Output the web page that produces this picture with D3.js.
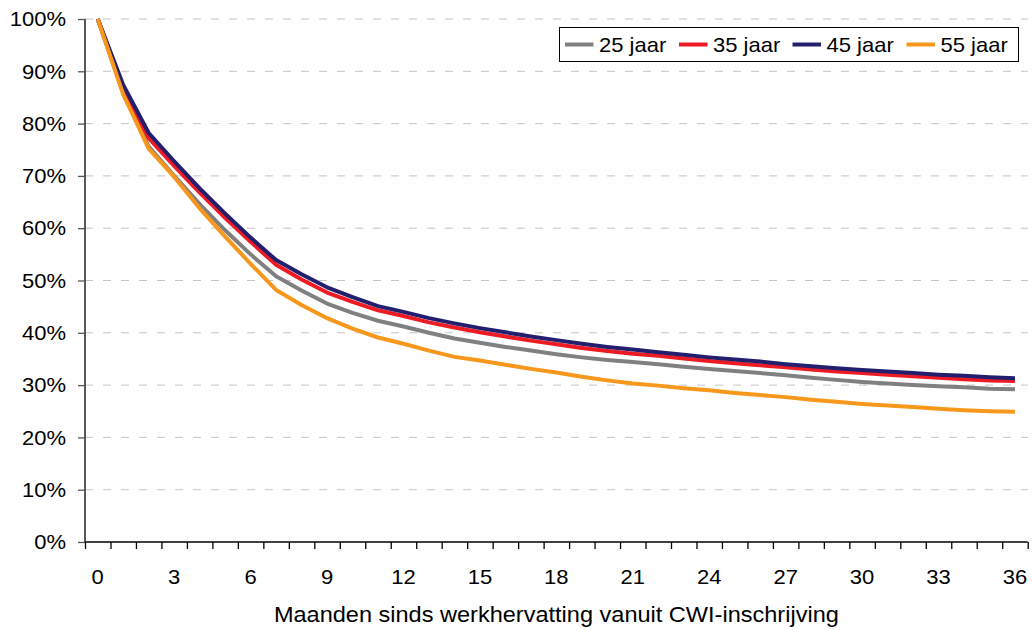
<!DOCTYPE html>
<html>
<head>
<meta charset="utf-8">
<script src="https://cdn.jsdelivr.net/npm/d3@7"></script>
<style>
  html, body { margin: 0; padding: 0; background: #fff; }
  svg { display: block; font-family: "Liberation Sans", Arial, sans-serif; }
</style>
</head>
<body>
<svg id="chart" width="1033" height="630"></svg>
<script>
// Months since resuming work (category axis)
const months = [0,1,2,3,4,5,6,7,8,9,10,11,12,13,14,15,16,17,18,19,20,21,22,23,24,25,26,27,28,29,30,31,32,33,34,35,36];
const monthLabels = [0,3,6,9,12,15,18,21,24,27,30,33,36];
const yTicks = [0,10,20,30,40,50,60,70,80,90,100];

// Share still in work (%) per age group
const age25 = [100,85.8,75.6,70.0,64.6,59.6,55.0,50.8,48.1,45.6,43.8,42.3,41.2,40.0,38.9,38.1,37.3,36.6,35.9,35.3,34.8,34.4,34.0,33.5,33.1,32.7,32.3,31.9,31.4,31.0,30.6,30.3,30.0,29.8,29.6,29.3,29.2];
const age35 = [100,86.8,77.2,71.9,66.8,62.0,57.4,53.0,50.2,47.7,45.9,44.3,43.2,42.0,41.0,40.1,39.3,38.5,37.8,37.1,36.5,36.0,35.6,35.1,34.6,34.2,33.8,33.4,33.0,32.6,32.3,32.0,31.7,31.4,31.1,30.9,30.8];
const age45 = [100,87.4,78.2,72.8,67.6,62.8,58.2,53.9,51.2,48.7,46.8,45.1,44.0,42.8,41.8,40.9,40.1,39.3,38.6,37.9,37.3,36.8,36.3,35.8,35.3,34.9,34.5,34.0,33.6,33.2,32.9,32.6,32.3,32.0,31.8,31.5,31.3];
const age55 = [100,85.6,75.2,69.8,63.8,58.4,53.2,48.2,45.3,42.8,40.8,39.1,37.9,36.6,35.4,34.7,33.9,33.1,32.4,31.6,30.9,30.3,29.9,29.4,29.0,28.5,28.1,27.7,27.2,26.8,26.4,26.1,25.8,25.5,25.2,25.0,24.9];

const seriesNames = ["25 jaar","35 jaar","45 jaar","55 jaar"];
const seriesValues = [age25, age35, age45, age55];
const seriesColors = ["#808080","#ed1c24","#231f6e","#f7981d"];

const xTitle = "Maanden sinds werkhervatting vanuit CWI-inschrijving";

const svg = d3.select("#chart");
const plot = { left: 85, right: 1027.7, top: 19, bottom: 542 };
const fontSize = 20;
const stretch = 1.1; // horizontal text stretch

const x = d3.scaleBand().domain(months).range([plot.left, plot.right]).padding(0);
const cx = m => x(m) + x.bandwidth() / 2;
const y = d3.scaleLinear().domain([0, 100]).range([plot.bottom, plot.top]);

function stretchedText(sel, size = fontSize) {
  return sel.attr("transform", d => `translate(${d.tx},${d.ty}) scale(${stretch},1)`)
    .attr("font-size", size)
    .attr("fill", "#000");
}

// Horizontal dashed gridlines
svg.append("g").selectAll("line")
  .data(yTicks.filter(t => t > 0))
  .join("line")
  .attr("x1", plot.left).attr("x2", plot.right)
  .attr("y1", d => y(d)).attr("y2", d => y(d))
  .attr("stroke", "#c4c4c4").attr("stroke-width", 1)
  .attr("stroke-dasharray", "8,10");

// Y axis
const yAxis = svg.append("g")
  .attr("transform", `translate(${plot.left},0)`)
  .call(d3.axisLeft(y).tickValues(yTicks).tickSize(7).tickFormat(""));
yAxis.select(".domain").attr("stroke", "#000").attr("stroke-width", 1.3)
  .attr("d", `M0,${plot.top}V${plot.bottom}`);
yAxis.selectAll(".tick line").attr("stroke", "#555").attr("stroke-width", 1.3);

svg.append("g").selectAll("text")
  .data(yTicks.map(t => ({ t, tx: 66, ty: y(t) })))
  .join("text")
  .call(stretchedText)
  .attr("text-anchor", "end")
  .attr("dy", "0.36em")
  .text(d => d.t + "%");

// X axis: ticks on the category boundaries
const edges = months.map(m => x(m)).concat([plot.right]);
const xAxisScale = d3.scaleIdentity().domain([plot.left, plot.right]);
const xAxis = svg.append("g")
  .attr("transform", `translate(0,${plot.bottom})`)
  .call(d3.axisBottom(xAxisScale).tickValues(edges).tickSize(7).tickFormat(""));
xAxis.select(".domain").attr("stroke", "#000").attr("stroke-width", 1.3)
  .attr("d", `M${plot.left},0H${plot.right}`);
xAxis.selectAll(".tick line").attr("stroke", "#000").attr("stroke-width", 1.3);

svg.append("g").selectAll("text")
  .data(monthLabels.map(m => ({ m, tx: cx(m), ty: 584 })))
  .join("text")
  .call(stretchedText)
  .attr("text-anchor", "middle")
  .text(d => d.m);

// Axis title
svg.append("text")
  .datum({ tx: (plot.left + plot.right) / 2, ty: 621.5 })
  .call(stretchedText, 21.4)
  .attr("text-anchor", "middle")
  .text(xTitle);

// Series lines
const line = d3.line()
  .x((d, i) => cx(months[i]))
  .y(d => y(d));

svg.append("g").selectAll("path")
  .data(seriesValues)
  .join("path")
  .attr("d", line)
  .attr("fill", "none")
  .attr("stroke", (d, i) => seriesColors[i])
  .attr("stroke-width", 4)
  .attr("stroke-linejoin", "round");

// Legend
const legend = svg.append("g");
legend.append("rect")
  .attr("x", 559.5).attr("y", 27.5).attr("width", 459).attr("height", 34)
  .attr("fill", "#fff").attr("stroke", "#000").attr("stroke-width", 1);

const legendX = [565, 679, 792.5, 906.5];
const items = legend.selectAll("g.item")
  .data(seriesNames.map((n, i) => ({ n, i, lx: legendX[i] })))
  .join("g").attr("class", "item");
items.append("line")
  .attr("x1", d => d.lx).attr("x2", d => d.lx + 28.5)
  .attr("y1", 44.5).attr("y2", 44.5)
  .attr("stroke", d => seriesColors[d.i]).attr("stroke-width", 4);
items.append("text")
  .datum(d => ({ ...d, tx: d.lx + 34, ty: 44.5 }))
  .call(stretchedText)
  .attr("dy", "0.36em")
  .text(d => d.n);
</script>
</body>
</html>
